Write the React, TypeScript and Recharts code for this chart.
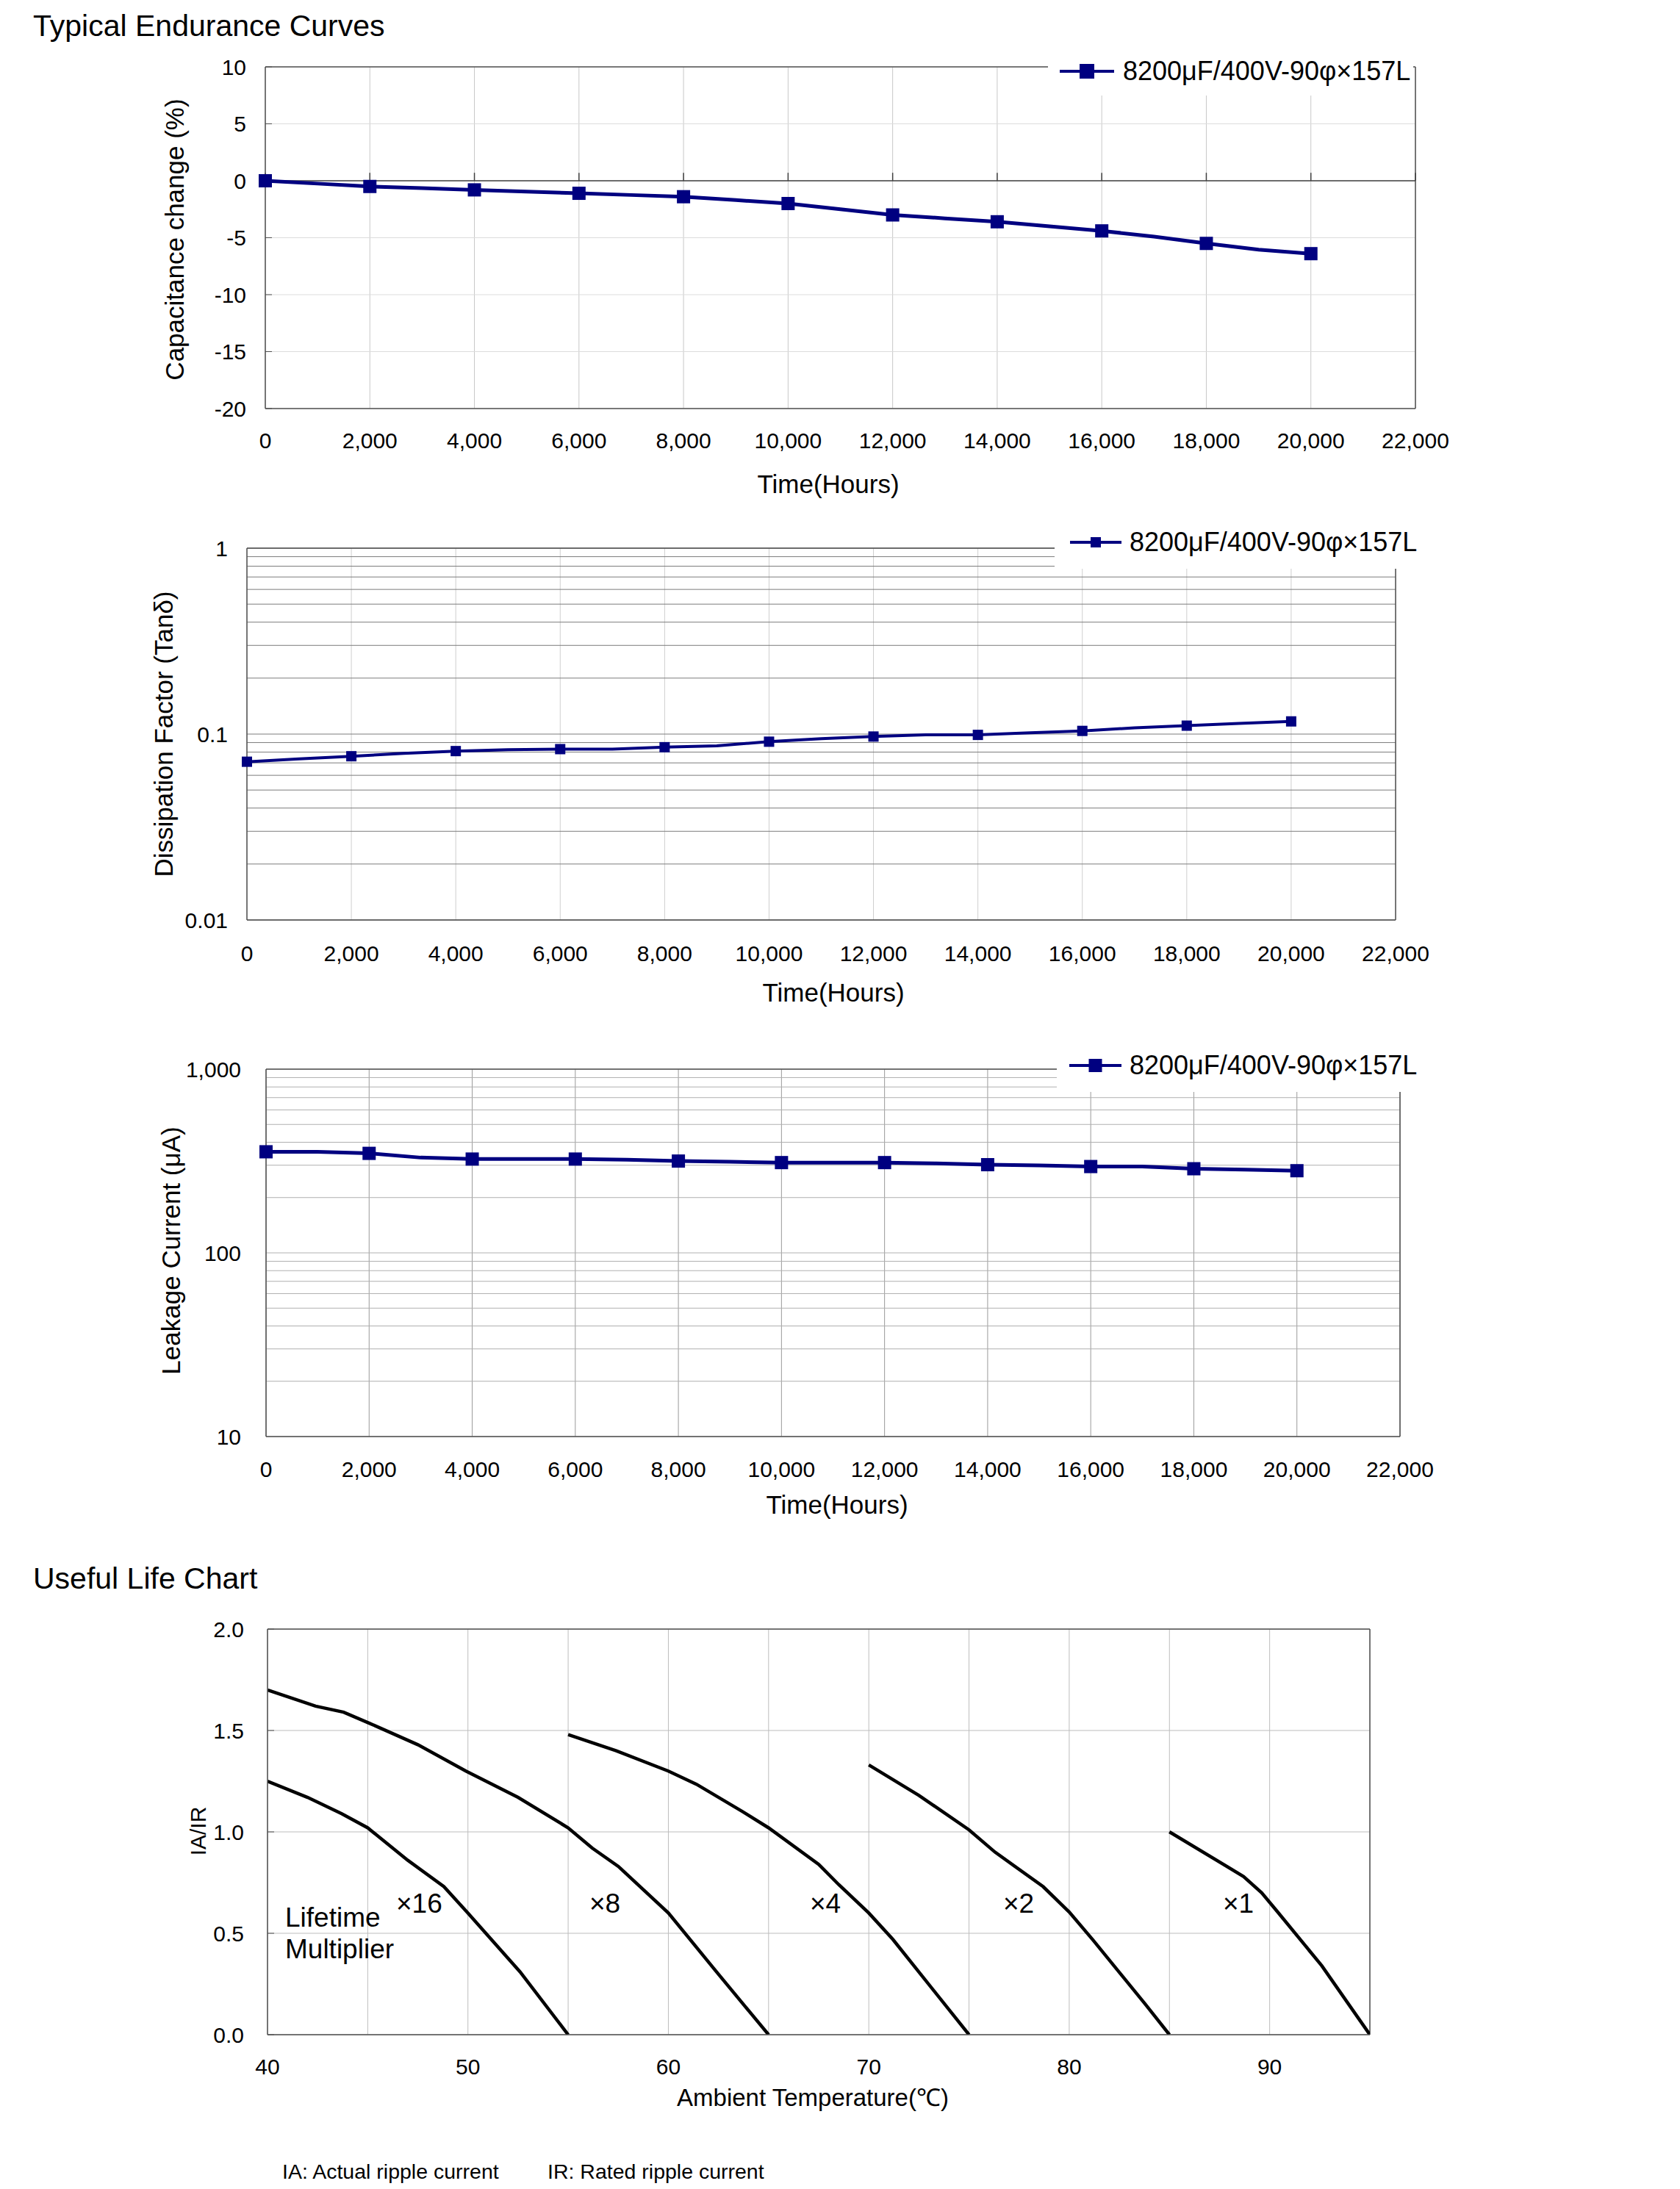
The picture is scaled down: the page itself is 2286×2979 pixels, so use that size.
import React from "react";
import { LineChart, Line, XAxis, YAxis, CartesianGrid, ReferenceLine } from "recharts";

const FONT = "'Liberation Sans', Arial, Helvetica, sans-serif";
const NAVY = "#000080";
const AXIS = "#505050";
const PAGE_W = 2286;
const Y_W = 100;
const X_H = 60;

const seriesName = "8200μF/400V-90φ×157L";

// time axis shared by the three endurance plots (readings every 1000 h, markers every 2000 h)
const hours = [0, 1000, 2000, 3000, 4000, 5000, 6000, 7000, 8000, 9000, 10000, 11000, 12000, 13000, 14000, 15000, 16000, 17000, 18000, 19000, 20000];
const hourTicks = [0, 2000, 4000, 6000, 8000, 10000, 12000, 14000, 16000, 18000, 20000, 22000];

// capacitance change (%)
const capChange = [0, -0.25, -0.5, -0.65, -0.8, -0.95, -1.1, -1.25, -1.4, -1.7, -2.0, -2.5, -3.0, -3.3, -3.6, -4.0, -4.4, -4.9, -5.5, -6.05, -6.4];
const capTicks = [-20, -15, -10, -5, 0, 5, 10];

// dissipation factor (tan delta)
const tanDelta = [0.071, 0.0735, 0.076, 0.0787, 0.081, 0.0825, 0.083, 0.083, 0.085, 0.0865, 0.091, 0.0945, 0.097, 0.099, 0.099, 0.1015, 0.104, 0.108, 0.111, 0.114, 0.117];
const tanTicks = [0.01, 0.02, 0.03, 0.04, 0.05, 0.06, 0.07, 0.08, 0.09, 0.1, 0.2, 0.3, 0.4, 0.5, 0.6, 0.7, 0.8, 0.9, 1];
const tanLabels = [0.01, 0.1, 1];

// leakage current (uA)
const leakage = [355, 355, 348, 330, 324, 324, 324, 321, 316, 313, 310, 310, 310, 307, 302, 299, 295, 295, 287, 284, 280];
const leakTicks = [10, 20, 30, 40, 50, 60, 70, 80, 90, 100, 200, 300, 400, 500, 600, 700, 800, 900, 1000];
const leakLabels = [10, 100, 1000];

// useful life chart: IA/IR vs ambient temperature, one curve per lifetime multiplier
const tempTicks = [40, 45, 50, 55, 60, 65, 70, 75, 80, 85, 90, 95];
const tempLabels = [40, 50, 60, 70, 80, 90];
const ratioTicks = [0, 0.5, 1, 1.5, 2];

const lifeX16 = [[40, 1.25], [42, 1.17], [43.7, 1.09], [45, 1.02], [47, 0.86], [48.8, 0.73], [50, 0.6], [52.6, 0.31], [55, 0]];
const lifeX8 = [[40, 1.7], [42.4, 1.62], [43.8, 1.59], [45.1, 1.535], [47.5, 1.43], [49.9, 1.3], [52.5, 1.17], [55, 1.02], [56.2, 0.92], [57.5, 0.83], [60, 0.6], [62.4, 0.31], [65, 0]];
const lifeX4 = [[55, 1.48], [57.4, 1.4], [60, 1.3], [61.4, 1.235], [63.7, 1.1], [65, 1.02], [67.5, 0.84], [68.5, 0.74], [70, 0.6], [71.2, 0.47], [75, 0]];
const lifeX2 = [[70, 1.33], [72.5, 1.18], [75, 1.01], [76.3, 0.9], [78.7, 0.73], [80, 0.605], [81.2, 0.465], [83.8, 0.15], [85, 0]];
const lifeX1 = [[85, 1.0], [88.7, 0.78], [89.6, 0.7], [90.4, 0.605], [92.6, 0.34], [95, 0]];

const toPoints = (pts: number[][]) => pts.map(([t, v]) => ({ t, v }));
const capData = hours.map((t, i) => ({ t, v: capChange[i] }));
const tanData = hours.map((t, i) => ({ t, v: tanDelta[i] }));
const leakData = hours.map((t, i) => ({ t, v: leakage[i] }));

const fmtHours = (v: number) => v.toLocaleString("en-US");

const squareDot = (size: number) => (props: any) => {
  const { cx, cy, payload, index } = props;
  if (cx == null || cy == null || payload.t % 2000 !== 0) return <g key={`d${index}`} />;
  return <rect key={`d${index}`} x={cx - size / 2} y={cy - size / 2} width={size} height={size} fill={NAVY} />;
};

type Box = { l: number; r: number; t: number; b: number };

const frame = (top: number, h: number, box: Box) => ({
  top,
  h,
  margin: { left: box.l - Y_W, right: PAGE_W - box.r, top: box.t - top, bottom: top + h - box.b - X_H },
});

const Text = ({ x, y, size, children, align = "left", rotate = false }: any) => {
  const tx = align === "center" ? "-50%" : align === "right" ? "-100%" : "0";
  return (
    <div
      style={{
        position: "absolute",
        left: x,
        top: y,
        fontSize: size,
        lineHeight: 1,
        whiteSpace: "nowrap",
        color: "#000",
        transform: rotate ? "translate(-50%, -50%) rotate(-90deg)" : `translate(${tx}, -50%)`,
      }}
    >
      {children}
    </div>
  );
};

const LegendBox = ({ left, top, width, height, lineX, lineW, marker, textX }: any) => (
  <div style={{ position: "absolute", left, top, width, height, background: "#fff" }}>
    <svg style={{ position: "absolute", left: lineX, top: 0 }} width={lineW} height={height}>
      <line x1={0} x2={lineW} y1={height / 2} y2={height / 2} stroke={NAVY} strokeWidth={4} />
      <rect x={lineW / 2 - marker / 2} y={height / 2 - marker / 2} width={marker} height={marker} fill={NAVY} />
    </svg>
    <div style={{ position: "absolute", left: textX, top: height / 2, transform: "translateY(-50%)", fontSize: 36, lineHeight: 1, whiteSpace: "nowrap" }}>
      {seriesName}
    </div>
  </div>
);

const tickStyle = { fill: "#000", fontSize: 30 };

const f1 = frame(40, 580, { l: 361, r: 1926, t: 91, b: 556 });
const f2 = frame(690, 630, { l: 336, r: 1899, t: 746, b: 1252 });
const f3 = frame(1400, 620, { l: 362, r: 1905, t: 1455, b: 1955 });
const f4 = frame(2170, 660, { l: 364, r: 1864, t: 2217, b: 2769 });

export default function App() {
  return (
    <div style={{ position: "absolute", left: 0, top: 0, width: PAGE_W, height: 2979, background: "#fff", fontFamily: FONT, overflow: "hidden" }}>
      <Text x={45} y={35} size={41}>Typical Endurance Curves</Text>

      {/* capacitance change */}
      <div style={{ position: "absolute", left: 0, top: f1.top }}>
        <LineChart width={PAGE_W} height={f1.h} data={capData} margin={f1.margin}>
          <CartesianGrid horizontal={false} stroke="#c8c8c8" />
          <CartesianGrid vertical={false} stroke="#dcdcdc" />
          <XAxis dataKey="t" type="number" domain={[0, 22000]} ticks={hourTicks} tickFormatter={fmtHours} interval={0}
            height={X_H} tickLine={false} tickSize={0} tickMargin={33} axisLine={{ stroke: AXIS, strokeWidth: 1.5 }} tick={tickStyle} />
          <YAxis type="number" domain={[-20, 10]} ticks={capTicks} interval={0} width={Y_W}
            tickSize={-9} tickMargin={35} tickLine={{ stroke: AXIS }} axisLine={{ stroke: AXIS, strokeWidth: 1.5 }} tick={tickStyle} />
          <ReferenceLine y={10} stroke={AXIS} strokeWidth={1.5} />
          <ReferenceLine x={22000} stroke={AXIS} strokeWidth={1.5} />
          <ReferenceLine y={0} stroke="#404040" strokeWidth={1.5} />
          {hourTicks.map((t) => (
            <ReferenceLine key={t} segment={[{ x: t, y: 0 }, { x: t, y: 0.7 }]} stroke="#404040" strokeWidth={1.5} />
          ))}
          <Line type="linear" dataKey="v" stroke={NAVY} strokeWidth={5} dot={squareDot(18)} activeDot={false} isAnimationActive={false} />
        </LineChart>
      </div>
      <LegendBox left={1426} top={64} width={497} height={66} lineX={16} lineW={74} marker={20} textX={102} />
      <Text x={1127} y={658} size={35} align="center">Time(Hours)</Text>
      <Text x={237} y={326} size={35} rotate>Capacitance change (%)</Text>

      {/* dissipation factor */}
      <div style={{ position: "absolute", left: 0, top: f2.top }}>
        <LineChart width={PAGE_W} height={f2.h} data={tanData} margin={f2.margin}>
          <CartesianGrid horizontal={false} stroke="#cfcfcf" />
          <CartesianGrid vertical={false} stroke="#7c7c7c" />
          <XAxis dataKey="t" type="number" domain={[0, 22000]} ticks={hourTicks} tickFormatter={fmtHours} interval={0}
            height={X_H} tickLine={false} tickSize={0} tickMargin={35} axisLine={{ stroke: AXIS, strokeWidth: 1.5 }} tick={tickStyle} />
          <YAxis type="number" scale="log" domain={[0.01, 1]} ticks={tanTicks} interval={0} width={Y_W} allowDataOverflow
            tickFormatter={(v: number) => (tanLabels.includes(v) ? String(v) : "")}
            tickSize={0} tickMargin={26} tickLine={false} axisLine={{ stroke: AXIS, strokeWidth: 1.5 }} tick={tickStyle} />
          <ReferenceLine y={1} stroke={AXIS} strokeWidth={1.5} />
          <ReferenceLine x={22000} stroke={AXIS} strokeWidth={1.5} />
          <Line type="linear" dataKey="v" stroke={NAVY} strokeWidth={4} dot={squareDot(14)} activeDot={false} isAnimationActive={false} />
        </LineChart>
      </div>
      <LegendBox left={1435} top={702} width={500} height={72} lineX={21} lineW={70} marker={14} textX={102} />
      <Text x={1134} y={1350} size={35} align="center">Time(Hours)</Text>
      <Text x={222} y={999} size={35} rotate>Dissipation Factor (Tanδ)</Text>

      {/* leakage current */}
      <div style={{ position: "absolute", left: 0, top: f3.top }}>
        <LineChart width={PAGE_W} height={f3.h} data={leakData} margin={f3.margin}>
          <CartesianGrid horizontal={false} stroke="#9a9a9a" />
          <CartesianGrid vertical={false} stroke="#b0b0b0" />
          <XAxis dataKey="t" type="number" domain={[0, 22000]} ticks={hourTicks} tickFormatter={fmtHours} interval={0}
            height={X_H} tickLine={false} tickSize={0} tickMargin={34} axisLine={{ stroke: AXIS, strokeWidth: 1.5 }} tick={tickStyle} />
          <YAxis type="number" scale="log" domain={[10, 1000]} ticks={leakTicks} interval={0} width={Y_W} allowDataOverflow
            tickFormatter={(v: number) => (leakLabels.includes(v) ? v.toLocaleString("en-US") : "")}
            tickSize={0} tickMargin={34} tickLine={false} axisLine={{ stroke: AXIS, strokeWidth: 1.5 }} tick={tickStyle} />
          <ReferenceLine y={1000} stroke={AXIS} strokeWidth={1.5} />
          <ReferenceLine x={22000} stroke={AXIS} strokeWidth={1.5} />
          <Line type="linear" dataKey="v" stroke={NAVY} strokeWidth={5} dot={squareDot(18)} activeDot={false} isAnimationActive={false} />
        </LineChart>
      </div>
      <LegendBox left={1438} top={1414} width={500} height={72} lineX={17} lineW={71} marker={18} textX={99} />
      <Text x={1139} y={2047} size={35} align="center">Time(Hours)</Text>
      <Text x={232} y={1702} size={35} rotate>Leakage Current (μA)</Text>

      {/* useful life */}
      <Text x={45} y={2148} size={41}>Useful Life Chart</Text>
      <div style={{ position: "absolute", left: 0, top: f4.top }}>
        <LineChart width={PAGE_W} height={f4.h} margin={f4.margin}>
          <CartesianGrid stroke="#bdbdbd" />
          <XAxis dataKey="t" type="number" domain={[40, 95]} ticks={tempTicks} interval={0} allowDataOverflow
            tickFormatter={(v: number) => (tempLabels.includes(v) ? String(v) : "")}
            height={X_H} tickLine={false} tickSize={0} tickMargin={33} axisLine={{ stroke: AXIS, strokeWidth: 1.5 }} tick={tickStyle} />
          <YAxis type="number" domain={[0, 2]} ticks={ratioTicks} interval={0} width={Y_W} allowDataOverflow
            tickFormatter={(v: number) => v.toFixed(1)}
            tickSize={-9} tickMargin={41} tickLine={{ stroke: AXIS }} axisLine={{ stroke: AXIS, strokeWidth: 1.5 }} tick={tickStyle} />
          <ReferenceLine y={2} stroke={AXIS} strokeWidth={1.5} />
          <ReferenceLine x={95} stroke={AXIS} strokeWidth={1.5} />
          {[lifeX16, lifeX8, lifeX4, lifeX2, lifeX1].map((pts, i) => (
            <Line key={i} data={toPoints(pts)} type="linear" dataKey="v" stroke="#000" strokeWidth={4.5} dot={false} activeDot={false} isAnimationActive={false} />
          ))}
        </LineChart>
      </div>
      <Text x={1106} y={2854} size={33} align="center">Ambient Temperature(℃)</Text>
      <Text x={270} y={2492} size={30} rotate>IA/IR</Text>
      <Text x={388} y={2609} size={37}>Lifetime</Text>
      <Text x={388} y={2652} size={37}>Multiplier</Text>
      <Text x={539} y={2590} size={37}>×16</Text>
      <Text x={802} y={2590} size={37}>×8</Text>
      <Text x={1102} y={2590} size={37}>×4</Text>
      <Text x={1365} y={2590} size={37}>×2</Text>
      <Text x={1664} y={2590} size={37}>×1</Text>
      <Text x={384} y={2955} size={28.5}>IA: Actual ripple current</Text>
      <Text x={745} y={2955} size={28.5}>IR: Rated ripple current</Text>
    </div>
  );
}
